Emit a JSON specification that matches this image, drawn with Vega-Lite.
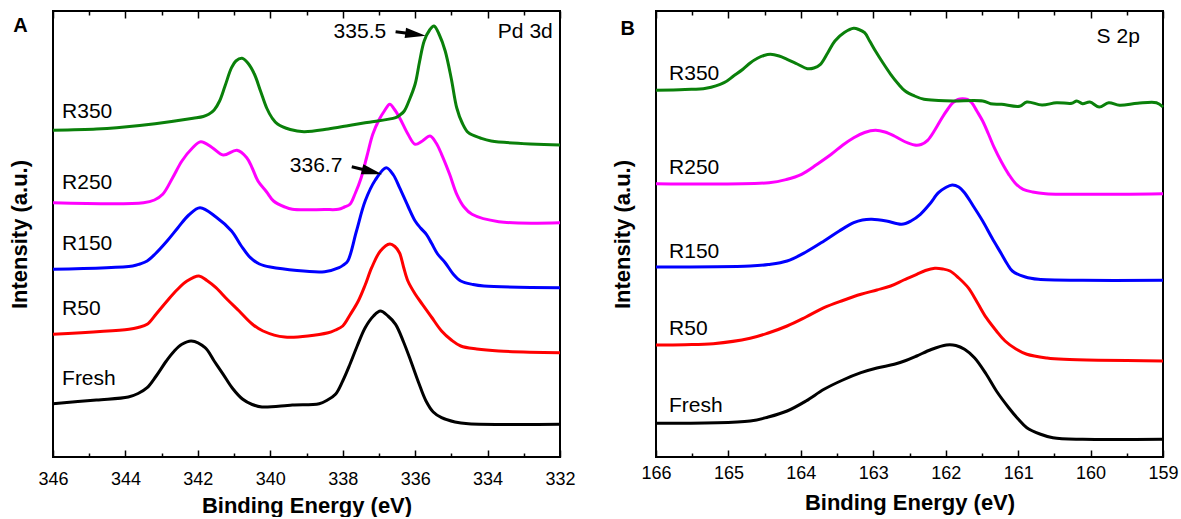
{
  "$schema": "https://vega.github.io/schema/vega-lite/v6.json",
  "background": "white",
  "padding": {"left": 7, "top": 9, "right": 5, "bottom": 0},
  "bounds": "flush",
  "spacing": 96,
  "config": {
    "font": "Liberation Sans",
    "view": {"stroke": "black", "strokeWidth": 2},
    "axis": {"grid": false, "labelFont": "Liberation Sans", "titleFont": "Liberation Sans", "labelColor": "black", "titleColor": "black", "tickColor": "black", "domain": false},
    "axisX": {"labelFontSize": 18, "titleFontSize": 22, "titleFontWeight": "bold", "labelFlush": false, "labelOverlap": false, "tickWidth": 1.5},
    "axisY": {"labels": false, "ticks": false, "domain": false, "titleFontSize": 22, "titleFontWeight": "bold", "titlePadding": 22}
  },
  "datasets": {
    "pd_lines": [
      {"sample": "Fresh", "be": 346, "intensity": 53.3},
      {"sample": "Fresh", "be": 344.8, "intensity": 57},
      {"sample": "Fresh", "be": 343.92, "intensity": 60},
      {"sample": "Fresh", "be": 343.65, "intensity": 63.5},
      {"sample": "Fresh", "be": 343.4, "intensity": 69.3},
      {"sample": "Fresh", "be": 343.15, "intensity": 81},
      {"sample": "Fresh", "be": 342.87, "intensity": 96},
      {"sample": "Fresh", "be": 342.65, "intensity": 106},
      {"sample": "Fresh", "be": 342.44, "intensity": 112.7},
      {"sample": "Fresh", "be": 342.18, "intensity": 116},
      {"sample": "Fresh", "be": 341.8, "intensity": 109.3},
      {"sample": "Fresh", "be": 341.55, "intensity": 96},
      {"sample": "Fresh", "be": 341.3, "intensity": 82.7},
      {"sample": "Fresh", "be": 341.05, "intensity": 69},
      {"sample": "Fresh", "be": 340.76, "intensity": 57.7},
      {"sample": "Fresh", "be": 340.5, "intensity": 52.5},
      {"sample": "Fresh", "be": 340.23, "intensity": 50},
      {"sample": "Fresh", "be": 339.39, "intensity": 52},
      {"sample": "Fresh", "be": 338.65, "intensity": 53.3},
      {"sample": "Fresh", "be": 338.42, "intensity": 57},
      {"sample": "Fresh", "be": 338.2, "intensity": 62.7},
      {"sample": "Fresh", "be": 338.0, "intensity": 76},
      {"sample": "Fresh", "be": 337.8, "intensity": 92.7},
      {"sample": "Fresh", "be": 337.6, "intensity": 111},
      {"sample": "Fresh", "be": 337.38, "intensity": 129.3},
      {"sample": "Fresh", "be": 337.15, "intensity": 141},
      {"sample": "Fresh", "be": 336.96, "intensity": 146},
      {"sample": "Fresh", "be": 336.75, "intensity": 141},
      {"sample": "Fresh", "be": 336.54, "intensity": 132.7},
      {"sample": "Fresh", "be": 336.32, "intensity": 115},
      {"sample": "Fresh", "be": 336.12, "intensity": 96},
      {"sample": "Fresh", "be": 335.9, "intensity": 74},
      {"sample": "Fresh", "be": 335.7, "intensity": 56},
      {"sample": "Fresh", "be": 335.5, "intensity": 45},
      {"sample": "Fresh", "be": 335.27, "intensity": 39.3},
      {"sample": "Fresh", "be": 334.9, "intensity": 35},
      {"sample": "Fresh", "be": 334.53, "intensity": 33.3},
      {"sample": "Fresh", "be": 332, "intensity": 32.7},
      {"sample": "R50", "be": 346, "intensity": 122.7},
      {"sample": "R50", "be": 343.9, "intensity": 127.7},
      {"sample": "R50", "be": 343.65, "intensity": 129.5},
      {"sample": "R50", "be": 343.4, "intensity": 132.7},
      {"sample": "R50", "be": 343.15, "intensity": 143},
      {"sample": "R50", "be": 342.85, "intensity": 156},
      {"sample": "R50", "be": 342.58, "intensity": 167},
      {"sample": "R50", "be": 342.3, "intensity": 176},
      {"sample": "R50", "be": 341.97, "intensity": 181},
      {"sample": "R50", "be": 341.75, "intensity": 176.5},
      {"sample": "R50", "be": 341.5, "intensity": 169.3},
      {"sample": "R50", "be": 341.2, "intensity": 158},
      {"sample": "R50", "be": 340.86, "intensity": 146},
      {"sample": "R50", "be": 340.5, "intensity": 133},
      {"sample": "R50", "be": 340.2, "intensity": 126},
      {"sample": "R50", "be": 339.6, "intensity": 120},
      {"sample": "R50", "be": 338.4, "intensity": 124.3},
      {"sample": "R50", "be": 338.2, "intensity": 127},
      {"sample": "R50", "be": 338.0, "intensity": 131},
      {"sample": "R50", "be": 337.8, "intensity": 142},
      {"sample": "R50", "be": 337.57, "intensity": 156},
      {"sample": "R50", "be": 337.38, "intensity": 172},
      {"sample": "R50", "be": 337.2, "intensity": 189.3},
      {"sample": "R50", "be": 336.96, "intensity": 206},
      {"sample": "R50", "be": 336.7, "intensity": 213},
      {"sample": "R50", "be": 336.56, "intensity": 210.5},
      {"sample": "R50", "be": 336.43, "intensity": 204},
      {"sample": "R50", "be": 336.32, "intensity": 190},
      {"sample": "R50", "be": 336.2, "intensity": 176},
      {"sample": "R50", "be": 336.0, "intensity": 163},
      {"sample": "R50", "be": 335.8, "intensity": 152.7},
      {"sample": "R50", "be": 335.55, "intensity": 140},
      {"sample": "R50", "be": 335.27, "intensity": 126},
      {"sample": "R50", "be": 335.0, "intensity": 117},
      {"sample": "R50", "be": 334.74, "intensity": 111},
      {"sample": "R50", "be": 334.3, "intensity": 108},
      {"sample": "R50", "be": 333.69, "intensity": 106},
      {"sample": "R50", "be": 332, "intensity": 104.3},
      {"sample": "R150", "be": 346, "intensity": 187.7},
      {"sample": "R150", "be": 343.8, "intensity": 191},
      {"sample": "R150", "be": 343.6, "intensity": 193},
      {"sample": "R150", "be": 343.4, "intensity": 196},
      {"sample": "R150", "be": 343.18, "intensity": 203},
      {"sample": "R150", "be": 342.85, "intensity": 216},
      {"sample": "R150", "be": 342.55, "intensity": 229.3},
      {"sample": "R150", "be": 342.25, "intensity": 242},
      {"sample": "R150", "be": 341.94, "intensity": 249.3},
      {"sample": "R150", "be": 341.5, "intensity": 240},
      {"sample": "R150", "be": 341.07, "intensity": 226},
      {"sample": "R150", "be": 340.8, "intensity": 211},
      {"sample": "R150", "be": 340.55, "intensity": 199.3},
      {"sample": "R150", "be": 340.3, "intensity": 193},
      {"sample": "R150", "be": 340.0, "intensity": 190},
      {"sample": "R150", "be": 338.5, "intensity": 185.3},
      {"sample": "R150", "be": 338.1, "intensity": 189.3},
      {"sample": "R150", "be": 337.98, "intensity": 192},
      {"sample": "R150", "be": 337.86, "intensity": 196},
      {"sample": "R150", "be": 337.62, "intensity": 226},
      {"sample": "R150", "be": 337.38, "intensity": 256},
      {"sample": "R150", "be": 337.1, "intensity": 277},
      {"sample": "R150", "be": 336.8, "intensity": 289.3},
      {"sample": "R150", "be": 336.6, "intensity": 282},
      {"sample": "R150", "be": 336.43, "intensity": 269.3},
      {"sample": "R150", "be": 336.2, "intensity": 251},
      {"sample": "R150", "be": 336.0, "intensity": 236},
      {"sample": "R150", "be": 335.85, "intensity": 229},
      {"sample": "R150", "be": 335.69, "intensity": 222.7},
      {"sample": "R150", "be": 335.55, "intensity": 214},
      {"sample": "R150", "be": 335.38, "intensity": 203},
      {"sample": "R150", "be": 335.17, "intensity": 194.3},
      {"sample": "R150", "be": 334.95, "intensity": 183},
      {"sample": "R150", "be": 334.74, "intensity": 176},
      {"sample": "R150", "be": 334.4, "intensity": 172.5},
      {"sample": "R150", "be": 334.1, "intensity": 171},
      {"sample": "R150", "be": 332, "intensity": 169.3},
      {"sample": "R250", "be": 346, "intensity": 254.3},
      {"sample": "R250", "be": 343.5, "intensity": 254.3},
      {"sample": "R250", "be": 343.2, "intensity": 257},
      {"sample": "R250", "be": 342.97, "intensity": 262.7},
      {"sample": "R250", "be": 342.7, "intensity": 279},
      {"sample": "R250", "be": 342.44, "intensity": 296},
      {"sample": "R250", "be": 342.15, "intensity": 309},
      {"sample": "R250", "be": 341.92, "intensity": 315.3},
      {"sample": "R250", "be": 341.6, "intensity": 309.3},
      {"sample": "R250", "be": 341.3, "intensity": 302},
      {"sample": "R250", "be": 340.92, "intensity": 306.7},
      {"sample": "R250", "be": 340.65, "intensity": 299.3},
      {"sample": "R250", "be": 340.5, "intensity": 289},
      {"sample": "R250", "be": 340.34, "intensity": 276},
      {"sample": "R250", "be": 340.1, "intensity": 265},
      {"sample": "R250", "be": 339.91, "intensity": 256},
      {"sample": "R250", "be": 339.6, "intensity": 250},
      {"sample": "R250", "be": 339.39, "intensity": 247.7},
      {"sample": "R250", "be": 338.5, "intensity": 247.5},
      {"sample": "R250", "be": 338.12, "intensity": 247.7},
      {"sample": "R250", "be": 337.95, "intensity": 250},
      {"sample": "R250", "be": 337.8, "intensity": 252.7},
      {"sample": "R250", "be": 337.65, "intensity": 264},
      {"sample": "R250", "be": 337.49, "intensity": 279.3},
      {"sample": "R250", "be": 337.33, "intensity": 301},
      {"sample": "R250", "be": 337.17, "intensity": 322.7},
      {"sample": "R250", "be": 337.0, "intensity": 337},
      {"sample": "R250", "be": 336.85, "intensity": 346},
      {"sample": "R250", "be": 336.7, "intensity": 352.7},
      {"sample": "R250", "be": 336.58, "intensity": 348},
      {"sample": "R250", "be": 336.43, "intensity": 339.3},
      {"sample": "R250", "be": 336.2, "intensity": 323},
      {"sample": "R250", "be": 336.0, "intensity": 312.7},
      {"sample": "R250", "be": 335.8, "intensity": 316},
      {"sample": "R250", "be": 335.59, "intensity": 321},
      {"sample": "R250", "be": 335.42, "intensity": 314},
      {"sample": "R250", "be": 335.27, "intensity": 302.7},
      {"sample": "R250", "be": 335.05, "intensity": 283},
      {"sample": "R250", "be": 334.85, "intensity": 262.7},
      {"sample": "R250", "be": 334.65, "intensity": 250},
      {"sample": "R250", "be": 334.43, "intensity": 242.7},
      {"sample": "R250", "be": 333.69, "intensity": 235.3},
      {"sample": "R250", "be": 332, "intensity": 234.3},
      {"sample": "R350", "be": 346, "intensity": 326.7},
      {"sample": "R350", "be": 344.8, "intensity": 328},
      {"sample": "R350", "be": 344.24, "intensity": 329.3},
      {"sample": "R350", "be": 343.18, "intensity": 333.3},
      {"sample": "R350", "be": 342.13, "intensity": 338.7},
      {"sample": "R350", "be": 341.85, "intensity": 340.5},
      {"sample": "R350", "be": 341.7, "intensity": 342.7},
      {"sample": "R350", "be": 341.55, "intensity": 347},
      {"sample": "R350", "be": 341.4, "intensity": 356},
      {"sample": "R350", "be": 341.25, "intensity": 371},
      {"sample": "R350", "be": 341.07, "intensity": 389.3},
      {"sample": "R350", "be": 340.95, "intensity": 396},
      {"sample": "R350", "be": 340.78, "intensity": 398.7},
      {"sample": "R350", "be": 340.62, "intensity": 394},
      {"sample": "R350", "be": 340.44, "intensity": 383},
      {"sample": "R350", "be": 340.27, "intensity": 366},
      {"sample": "R350", "be": 340.1, "intensity": 349},
      {"sample": "R350", "be": 339.95, "intensity": 339},
      {"sample": "R350", "be": 339.8, "intensity": 333},
      {"sample": "R350", "be": 339.45, "intensity": 327.5},
      {"sample": "R350", "be": 339.07, "intensity": 325.3},
      {"sample": "R350", "be": 338.4, "intensity": 328},
      {"sample": "R350", "be": 337.9, "intensity": 331},
      {"sample": "R350", "be": 337.38, "intensity": 334.3},
      {"sample": "R350", "be": 336.54, "intensity": 339.3},
      {"sample": "R350", "be": 336.42, "intensity": 342},
      {"sample": "R350", "be": 336.3, "intensity": 346},
      {"sample": "R350", "be": 336.15, "intensity": 358},
      {"sample": "R350", "be": 336.0, "intensity": 373},
      {"sample": "R350", "be": 335.88, "intensity": 395},
      {"sample": "R350", "be": 335.75, "intensity": 416},
      {"sample": "R350", "be": 335.6, "intensity": 427},
      {"sample": "R350", "be": 335.48, "intensity": 431},
      {"sample": "R350", "be": 335.33, "intensity": 422},
      {"sample": "R350", "be": 335.17, "intensity": 406},
      {"sample": "R350", "be": 335.0, "intensity": 378},
      {"sample": "R350", "be": 334.85, "intensity": 349},
      {"sample": "R350", "be": 334.7, "intensity": 334},
      {"sample": "R350", "be": 334.53, "intensity": 324.3},
      {"sample": "R350", "be": 334.2, "intensity": 319},
      {"sample": "R350", "be": 333.9, "intensity": 316},
      {"sample": "R350", "be": 332, "intensity": 312}
    ],
    "pd_text": [
      {"kind": "sample", "be": 345.75, "intensity": 345, "label": "R350"},
      {"kind": "sample", "be": 345.75, "intensity": 274, "label": "R250"},
      {"kind": "sample", "be": 345.75, "intensity": 213, "label": "R150"},
      {"kind": "sample", "be": 345.75, "intensity": 148, "label": "R50"},
      {"kind": "sample", "be": 345.75, "intensity": 78, "label": "Fresh"},
      {"kind": "value", "be": 336.8, "intensity": 425, "label": "335.5"},
      {"kind": "value", "be": 338.01, "intensity": 291, "label": "336.7"},
      {"kind": "core", "be": 332.2, "intensity": 425, "label": "Pd 3d"},
      {"kind": "panel", "be": 346.9, "intensity": 431, "label": "A"}
    ],
    "pd_arrows": [
      {"id": 1, "be": 336.54, "intensity": 425.3, "be_end": 335.99, "intensity_end": 422.7},
      {"id": 2, "be": 337.75, "intensity": 290.3, "be_end": 337.19, "intensity_end": 285.3}
    ],
    "s_lines": [
      {"sample": "Fresh", "be": 166, "intensity": 33.7},
      {"sample": "Fresh", "be": 164.7, "intensity": 36},
      {"sample": "Fresh", "be": 164.45, "intensity": 40},
      {"sample": "Fresh", "be": 164.19, "intensity": 46},
      {"sample": "Fresh", "be": 163.93, "intensity": 56},
      {"sample": "Fresh", "be": 163.68, "intensity": 67.7},
      {"sample": "Fresh", "be": 163.42, "intensity": 77},
      {"sample": "Fresh", "be": 163.17, "intensity": 84.3},
      {"sample": "Fresh", "be": 162.95, "intensity": 89},
      {"sample": "Fresh", "be": 162.71, "intensity": 92.7},
      {"sample": "Fresh", "be": 162.55, "intensity": 96.5},
      {"sample": "Fresh", "be": 162.4, "intensity": 101},
      {"sample": "Fresh", "be": 162.2, "intensity": 107.5},
      {"sample": "Fresh", "be": 161.99, "intensity": 112},
      {"sample": "Fresh", "be": 161.86, "intensity": 111.5},
      {"sample": "Fresh", "be": 161.74, "intensity": 107.7},
      {"sample": "Fresh", "be": 161.6, "intensity": 99},
      {"sample": "Fresh", "be": 161.44, "intensity": 82.7},
      {"sample": "Fresh", "be": 161.3, "intensity": 66},
      {"sample": "Fresh", "be": 161.13, "intensity": 49.3},
      {"sample": "Fresh", "be": 161.0, "intensity": 38},
      {"sample": "Fresh", "be": 160.88, "intensity": 29.3},
      {"sample": "Fresh", "be": 160.7, "intensity": 23},
      {"sample": "Fresh", "be": 160.52, "intensity": 19.3},
      {"sample": "Fresh", "be": 160.11, "intensity": 17.7},
      {"sample": "Fresh", "be": 159, "intensity": 17.7},
      {"sample": "R50", "be": 166, "intensity": 112},
      {"sample": "R50", "be": 165.6, "intensity": 112.3},
      {"sample": "R50", "be": 165.21, "intensity": 113.3},
      {"sample": "R50", "be": 164.7, "intensity": 118.7},
      {"sample": "R50", "be": 164.45, "intensity": 124},
      {"sample": "R50", "be": 164.19, "intensity": 131},
      {"sample": "R50", "be": 163.93, "intensity": 140},
      {"sample": "R50", "be": 163.68, "intensity": 149.3},
      {"sample": "R50", "be": 163.42, "intensity": 156.5},
      {"sample": "R50", "be": 163.17, "intensity": 162.7},
      {"sample": "R50", "be": 162.95, "intensity": 167},
      {"sample": "R50", "be": 162.76, "intensity": 171},
      {"sample": "R50", "be": 162.58, "intensity": 177},
      {"sample": "R50", "be": 162.4, "intensity": 182.7},
      {"sample": "R50", "be": 162.28, "intensity": 186.5},
      {"sample": "R50", "be": 162.15, "intensity": 188.7},
      {"sample": "R50", "be": 162.04, "intensity": 188},
      {"sample": "R50", "be": 161.94, "intensity": 186},
      {"sample": "R50", "be": 161.82, "intensity": 179},
      {"sample": "R50", "be": 161.69, "intensity": 169.3},
      {"sample": "R50", "be": 161.56, "intensity": 154},
      {"sample": "R50", "be": 161.44, "intensity": 139.3},
      {"sample": "R50", "be": 161.3, "intensity": 126},
      {"sample": "R50", "be": 161.18, "intensity": 116},
      {"sample": "R50", "be": 161.03, "intensity": 108},
      {"sample": "R50", "be": 160.88, "intensity": 102.7},
      {"sample": "R50", "be": 160.6, "intensity": 99},
      {"sample": "R50", "be": 160.37, "intensity": 97.7},
      {"sample": "R50", "be": 159, "intensity": 96},
      {"sample": "R150", "be": 166, "intensity": 190},
      {"sample": "R150", "be": 164.7, "intensity": 191},
      {"sample": "R150", "be": 164.45, "intensity": 192.5},
      {"sample": "R150", "be": 164.19, "intensity": 196},
      {"sample": "R150", "be": 163.93, "intensity": 205},
      {"sample": "R150", "be": 163.68, "intensity": 216},
      {"sample": "R150", "be": 163.47, "intensity": 226},
      {"sample": "R150", "be": 163.27, "intensity": 234.3},
      {"sample": "R150", "be": 163.15, "intensity": 237},
      {"sample": "R150", "be": 163.02, "intensity": 237.7},
      {"sample": "R150", "be": 162.82, "intensity": 236},
      {"sample": "R150", "be": 162.61, "intensity": 232.7},
      {"sample": "R150", "be": 162.48, "intensity": 236},
      {"sample": "R150", "be": 162.35, "intensity": 242.7},
      {"sample": "R150", "be": 162.22, "intensity": 253},
      {"sample": "R150", "be": 162.1, "intensity": 264.3},
      {"sample": "R150", "be": 162.0, "intensity": 269.5},
      {"sample": "R150", "be": 161.91, "intensity": 272},
      {"sample": "R150", "be": 161.82, "intensity": 270},
      {"sample": "R150", "be": 161.74, "intensity": 264.3},
      {"sample": "R150", "be": 161.62, "intensity": 251},
      {"sample": "R150", "be": 161.49, "intensity": 236},
      {"sample": "R150", "be": 161.36, "intensity": 219},
      {"sample": "R150", "be": 161.23, "intensity": 203},
      {"sample": "R150", "be": 161.15, "intensity": 193},
      {"sample": "R150", "be": 161.08, "intensity": 186},
      {"sample": "R150", "be": 160.9, "intensity": 180},
      {"sample": "R150", "be": 160.72, "intensity": 177.7},
      {"sample": "R150", "be": 160.11, "intensity": 176.7},
      {"sample": "R150", "be": 159, "intensity": 176.7},
      {"sample": "R250", "be": 166, "intensity": 273.3},
      {"sample": "R250", "be": 164.44, "intensity": 274.3},
      {"sample": "R250", "be": 164.2, "intensity": 277.5},
      {"sample": "R250", "be": 163.99, "intensity": 282.7},
      {"sample": "R250", "be": 163.78, "intensity": 292.5},
      {"sample": "R250", "be": 163.58, "intensity": 302.7},
      {"sample": "R250", "be": 163.42, "intensity": 312},
      {"sample": "R250", "be": 163.27, "intensity": 319.3},
      {"sample": "R250", "be": 163.12, "intensity": 324.5},
      {"sample": "R250", "be": 162.97, "intensity": 326.7},
      {"sample": "R250", "be": 162.84, "intensity": 325},
      {"sample": "R250", "be": 162.71, "intensity": 321},
      {"sample": "R250", "be": 162.57, "intensity": 315.5},
      {"sample": "R250", "be": 162.43, "intensity": 312},
      {"sample": "R250", "be": 162.34, "intensity": 312.5},
      {"sample": "R250", "be": 162.25, "intensity": 316.7},
      {"sample": "R250", "be": 162.15, "intensity": 327},
      {"sample": "R250", "be": 162.05, "intensity": 339.3},
      {"sample": "R250", "be": 161.97, "intensity": 348},
      {"sample": "R250", "be": 161.9, "intensity": 354.3},
      {"sample": "R250", "be": 161.83, "intensity": 357.5},
      {"sample": "R250", "be": 161.77, "intensity": 358.3},
      {"sample": "R250", "be": 161.7, "intensity": 357.5},
      {"sample": "R250", "be": 161.64, "intensity": 354.3},
      {"sample": "R250", "be": 161.57, "intensity": 346},
      {"sample": "R250", "be": 161.49, "intensity": 336},
      {"sample": "R250", "be": 161.41, "intensity": 323},
      {"sample": "R250", "be": 161.33, "intensity": 309.3},
      {"sample": "R250", "be": 161.23, "intensity": 295},
      {"sample": "R250", "be": 161.13, "intensity": 282.7},
      {"sample": "R250", "be": 161.03, "intensity": 273},
      {"sample": "R250", "be": 160.93, "intensity": 267.7},
      {"sample": "R250", "be": 160.8, "intensity": 265},
      {"sample": "R250", "be": 160.62, "intensity": 263.3},
      {"sample": "R250", "be": 159, "intensity": 263.3},
      {"sample": "R350", "be": 166, "intensity": 366.7},
      {"sample": "R350", "be": 165.6, "intensity": 367.5},
      {"sample": "R350", "be": 165.31, "intensity": 368.7},
      {"sample": "R350", "be": 165.06, "intensity": 374.3},
      {"sample": "R350", "be": 164.93, "intensity": 381},
      {"sample": "R350", "be": 164.8, "intensity": 387.7},
      {"sample": "R350", "be": 164.7, "intensity": 394},
      {"sample": "R350", "be": 164.6, "intensity": 398.7},
      {"sample": "R350", "be": 164.51, "intensity": 401.5},
      {"sample": "R350", "be": 164.42, "intensity": 402.7},
      {"sample": "R350", "be": 164.3, "intensity": 401},
      {"sample": "R350", "be": 164.19, "intensity": 397.7},
      {"sample": "R350", "be": 164.05, "intensity": 393},
      {"sample": "R350", "be": 163.91, "intensity": 388.3},
      {"sample": "R350", "be": 163.82, "intensity": 389},
      {"sample": "R350", "be": 163.73, "intensity": 392.7},
      {"sample": "R350", "be": 163.63, "intensity": 404},
      {"sample": "R350", "be": 163.53, "intensity": 416},
      {"sample": "R350", "be": 163.4, "intensity": 424.5},
      {"sample": "R350", "be": 163.27, "intensity": 428.7},
      {"sample": "R350", "be": 163.2, "intensity": 427.5},
      {"sample": "R350", "be": 163.12, "intensity": 424.3},
      {"sample": "R350", "be": 163.05, "intensity": 416},
      {"sample": "R350", "be": 162.97, "intensity": 406},
      {"sample": "R350", "be": 162.87, "intensity": 394.5},
      {"sample": "R350", "be": 162.76, "intensity": 382.7},
      {"sample": "R350", "be": 162.66, "intensity": 373.5},
      {"sample": "R350", "be": 162.56, "intensity": 366},
      {"sample": "R350", "be": 162.43, "intensity": 361},
      {"sample": "R350", "be": 162.3, "intensity": 357.7},
      {"sample": "R350", "be": 162.1, "intensity": 356.5},
      {"sample": "R350", "be": 161.9, "intensity": 356},
      {"sample": "R350", "be": 161.49, "intensity": 356},
      {"sample": "R350", "be": 161.38, "intensity": 353.3},
      {"sample": "R350", "be": 161.23, "intensity": 352.7},
      {"sample": "R350", "be": 160.98, "intensity": 350.7},
      {"sample": "R350", "be": 160.88, "intensity": 355},
      {"sample": "R350", "be": 160.67, "intensity": 352},
      {"sample": "R350", "be": 160.47, "intensity": 354.3},
      {"sample": "R350", "be": 160.26, "intensity": 353.7},
      {"sample": "R350", "be": 160.19, "intensity": 356},
      {"sample": "R350", "be": 160.11, "intensity": 353.3},
      {"sample": "R350", "be": 160.01, "intensity": 355},
      {"sample": "R350", "be": 159.88, "intensity": 350},
      {"sample": "R350", "be": 159.75, "intensity": 354.3},
      {"sample": "R350", "be": 159.6, "intensity": 351.7},
      {"sample": "R350", "be": 159.35, "intensity": 353.7},
      {"sample": "R350", "be": 159.09, "intensity": 354.3},
      {"sample": "R350", "be": 159, "intensity": 350}
    ],
    "s_text": [
      {"kind": "sample", "be": 165.82, "intensity": 383.5, "label": "R350"},
      {"kind": "sample", "be": 165.82, "intensity": 289.3, "label": "R250"},
      {"kind": "sample", "be": 165.82, "intensity": 205, "label": "R150"},
      {"kind": "sample", "be": 165.82, "intensity": 128, "label": "R50"},
      {"kind": "sample", "be": 165.82, "intensity": 51, "label": "Fresh"},
      {"kind": "core", "be": 159.32, "intensity": 420, "label": "S 2p"},
      {"kind": "panel", "be": 166.39, "intensity": 428, "label": "B"}
    ]
  },
  "hconcat": [
    {
      "width": 507,
      "height": 446,
      "resolve": {"axis": {"x": "independent"}},
      "layer": [
        {
          "data": {"name": "pd_lines"},
          "mark": {"type": "line", "strokeWidth": 3, "interpolate": "catmull-rom"},
          "encoding": {
            "x": {"field": "be", "type": "quantitative", "title": "Binding Energy (eV)",
                  "scale": {"domain": [332, 346], "reverse": true, "nice": false, "zero": false},
                  "axis": {"orient": "bottom", "values": [332,333,334,335,336,337,338,339,340,341,342,343,344,345,346],
                           "labelExpr": "datum.value % 2 === 0 ? format(datum.value, 'd') : ''",
                           "tickSize": {"condition": {"test": "datum.value % 2 === 0", "value": -7}, "value": -4},
                           "labelPadding": 20, "titlePadding": 4}},
            "y": {"field": "intensity", "type": "quantitative", "title": "Intensity (a.u.)",
                  "scale": {"domain": [0, 446], "nice": false, "zero": false}},
            "color": {"field": "sample", "type": "nominal", "legend": null,
                      "scale": {"domain": ["Fresh", "R50", "R150", "R250", "R350"], "range": ["#000000", "#ff0000", "#0000ff", "#ff00ff", "#0a800a"]}},
            "order": {"field": "be", "type": "quantitative"}
          }
        },
        {
          "data": {"name": "pd_lines"},
          "mark": {"type": "point", "opacity": 0},
          "encoding": {
            "x": {"field": "be", "type": "quantitative",
                  "axis": {"orient": "top", "values": [332,333,334,335,336,337,338,339,340,341,342,343,344,345,346],
                           "labels": false, "title": null,
                           "tickSize": {"condition": {"test": "datum.value % 2 === 0", "value": -7}, "value": -4}}}
          }
        },
        {
          "data": {"name": "pd_text"},
          "transform": [{"filter": "datum.kind === 'sample'"}],
          "mark": {"type": "text", "align": "left", "baseline": "middle", "fontSize": 21, "color": "black"},
          "encoding": {
            "x": {"field": "be", "type": "quantitative", "axis": null},
            "y": {"field": "intensity", "type": "quantitative", "title": "Intensity (a.u.)"},
            "text": {"field": "label"}
          }
        },
        {
          "data": {"name": "pd_text"},
          "transform": [{"filter": "datum.kind === 'value' || datum.kind === 'core'"}],
          "mark": {"type": "text", "align": "right", "baseline": "middle", "fontSize": 21, "color": "black"},
          "encoding": {
            "x": {"field": "be", "type": "quantitative", "axis": null},
            "y": {"field": "intensity", "type": "quantitative", "title": "Intensity (a.u.)"},
            "text": {"field": "label"}
          }
        },
        {
          "data": {"name": "pd_text"},
          "transform": [{"filter": "datum.kind === 'panel'"}],
          "mark": {"type": "text", "align": "center", "baseline": "middle", "fontSize": 20, "fontWeight": "bold", "color": "black"},
          "encoding": {
            "x": {"field": "be", "type": "quantitative", "axis": null},
            "y": {"field": "intensity", "type": "quantitative", "title": "Intensity (a.u.)"},
            "text": {"field": "label"}
          }
        },
        {
          "data": {"name": "pd_arrows"},
          "mark": {"type": "rule", "strokeWidth": 3, "color": "black"},
          "encoding": {
            "x": {"field": "be", "type": "quantitative", "axis": null},
            "y": {"field": "intensity", "type": "quantitative", "title": "Intensity (a.u.)"},
            "x2": {"field": "be_end"},
            "y2": {"field": "intensity_end"}
          }
        },
        {
          "data": {"name": "pd_arrows"},
          "transform": [{"filter": "datum.id === 1"}],
          "mark": {"type": "point", "shape": "M-1,-0.5L1,0L-1,0.5Z", "filled": true, "color": "black", "opacity": 1, "size": 420, "angle": 8},
          "encoding": {
            "x": {"field": "be_end", "type": "quantitative", "axis": null},
            "y": {"field": "intensity_end", "type": "quantitative", "title": "Intensity (a.u.)"}
          }
        },
        {
          "data": {"name": "pd_arrows"},
          "transform": [{"filter": "datum.id === 2"}],
          "mark": {"type": "point", "shape": "M-1,-0.5L1,0L-1,0.5Z", "filled": true, "color": "black", "opacity": 1, "size": 420, "angle": 14},
          "encoding": {
            "x": {"field": "be_end", "type": "quantitative", "axis": null},
            "y": {"field": "intensity_end", "type": "quantitative", "title": "Intensity (a.u.)"}
          }
        }
      ]
    },
    {
      "width": 507,
      "height": 446,
      "resolve": {"axis": {"x": "independent"}},
      "layer": [
        {
          "data": {"name": "s_lines"},
          "mark": {"type": "line", "strokeWidth": 3, "interpolate": "catmull-rom"},
          "encoding": {
            "x": {"field": "be", "type": "quantitative", "title": "Binding Energy (eV)",
                  "scale": {"domain": [159, 166], "reverse": true, "nice": false, "zero": false},
                  "axis": {"orient": "bottom", "values": [159,159.5,160,160.5,161,161.5,162,162.5,163,163.5,164,164.5,165,165.5,166],
                           "labelExpr": "datum.value % 1 === 0 ? format(datum.value, 'd') : ''",
                           "tickSize": {"condition": {"test": "datum.value % 1 === 0", "value": -7}, "value": -4},
                           "labelPadding": 14, "titlePadding": 7}},
            "y": {"field": "intensity", "type": "quantitative", "title": "Intensity (a.u.)",
                  "scale": {"domain": [0, 446], "nice": false, "zero": false}},
            "color": {"field": "sample", "type": "nominal", "legend": null,
                      "scale": {"domain": ["Fresh", "R50", "R150", "R250", "R350"], "range": ["#000000", "#ff0000", "#0000ff", "#ff00ff", "#0a800a"]}},
            "order": {"field": "be", "type": "quantitative"}
          }
        },
        {
          "data": {"name": "s_lines"},
          "mark": {"type": "point", "opacity": 0},
          "encoding": {
            "x": {"field": "be", "type": "quantitative",
                  "axis": {"orient": "top", "values": [159,159.5,160,160.5,161,161.5,162,162.5,163,163.5,164,164.5,165,165.5,166],
                           "labels": false, "title": null,
                           "tickSize": {"condition": {"test": "datum.value % 1 === 0", "value": -7}, "value": -4}}}
          }
        },
        {
          "data": {"name": "s_text"},
          "transform": [{"filter": "datum.kind === 'sample'"}],
          "mark": {"type": "text", "align": "left", "baseline": "middle", "fontSize": 21, "color": "black"},
          "encoding": {
            "x": {"field": "be", "type": "quantitative", "axis": null},
            "y": {"field": "intensity", "type": "quantitative", "title": "Intensity (a.u.)"},
            "text": {"field": "label"}
          }
        },
        {
          "data": {"name": "s_text"},
          "transform": [{"filter": "datum.kind === 'core'"}],
          "mark": {"type": "text", "align": "right", "baseline": "middle", "fontSize": 21, "color": "black"},
          "encoding": {
            "x": {"field": "be", "type": "quantitative", "axis": null},
            "y": {"field": "intensity", "type": "quantitative", "title": "Intensity (a.u.)"},
            "text": {"field": "label"}
          }
        },
        {
          "data": {"name": "s_text"},
          "transform": [{"filter": "datum.kind === 'panel'"}],
          "mark": {"type": "text", "align": "center", "baseline": "middle", "fontSize": 20, "fontWeight": "bold", "color": "black"},
          "encoding": {
            "x": {"field": "be", "type": "quantitative", "axis": null},
            "y": {"field": "intensity", "type": "quantitative", "title": "Intensity (a.u.)"},
            "text": {"field": "label"}
          }
        }
      ]
    }
  ]
}
